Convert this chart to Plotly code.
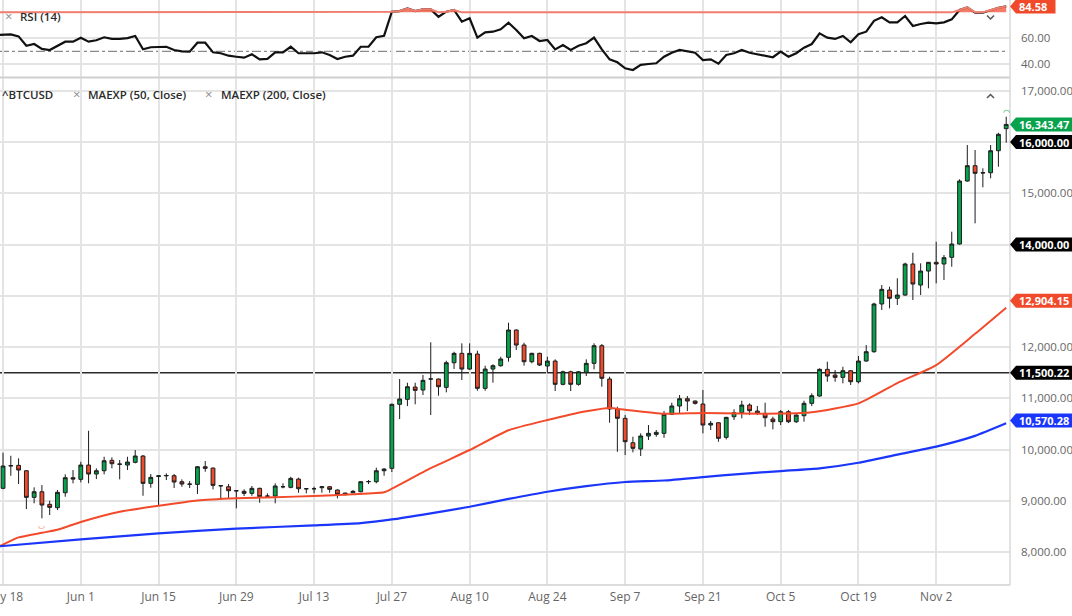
import plotly.graph_objects as go
import pandas as pd

# ---------------- data ----------------
open_ = [9247, 9682, 9695, 9590, 9071, 9180, 8935, 8869, 9161, 9454,
         9422, 9701, 9526, 9590, 9793, 9715, 9701, 9754, 9877, 9344,
         9480, 9490, 9493, 9376, 9331, 9324, 9668, 9642, 9300, 9278,
         9200, 9188, 9149, 9247, 9096, 9096, 9280, 9266, 9428, 9240,
         9240, 9259, 9278, 9214, 9122, 9161, 9180, 9376, 9376, 9590,
         9637, 10885, 10982, 11222, 11164, 11378, 11378, 11216, 11696, 11879,
         11573, 11866, 11197, 11573, 11638, 11801, 12334, 12041, 11716, 11879,
         11632, 11729, 11275, 11520, 11275, 11508, 11684, 12028, 11378, 10793,
         10612, 10136, 10014, 10267, 10299, 10319, 10690, 10852, 10994, 10949,
         10891, 10481, 10526, 10241, 10643, 10721, 10871, 10754, 10709, 10598,
         10546, 10741, 10546, 10663, 10904, 11047, 11567, 11456, 11411, 11540,
         11326, 11729, 11911, 12841, 13114, 12952, 13016, 13621, 13211, 13484,
         13654, 13621, 13751, 14011, 15239, 15538, 15395, 15401, 15830, 16260]
high = [9941, 9882, 9832, 9600, 9266, 9311, 9005, 9214, 9520, 9604,
        9765, 10370, 9637, 9863, 9851, 9799, 9863, 9994, 9896, 9526,
        9506, 9539, 9526, 9422, 9389, 9681, 9779, 9650, 9310, 9331,
        9210, 9227, 9292, 9259, 9149, 9344, 9344, 9473, 9454, 9245,
        9278, 9280, 9292, 9227, 9160, 9214, 9390, 9409, 9649, 9640,
        10900, 11378, 11306, 11306, 11456, 12094, 11390, 11735, 11910, 12074,
        12074, 11930, 11638, 11665, 11813, 12476, 12347, 12086, 11891, 11891,
        11813, 11762, 11540, 11540, 11530, 11762, 12074, 12061, 11423, 10838,
        10676, 10253, 10319, 10481, 10384, 10754, 10916, 11066, 11047, 10960,
        11164, 10560, 10540, 10640, 10787, 10955, 10904, 10852, 10916, 10643,
        10774, 10774, 10690, 10955, 11099, 11587, 11716, 11554, 11618, 11550,
        11827, 12041, 12866, 13211, 13178, 13342, 13646, 13841, 13634, 13660,
        14055, 13796, 14251, 15272, 15941, 15844, 15487, 15941, 16181, 16493]
low = [9230, 9492, 9331, 8843, 8954, 8662, 8726, 8823, 9083, 9344,
       9364, 9344, 9428, 9520, 9637, 9422, 9604, 9734, 9102, 9259,
       8907, 9409, 9253, 9278, 9253, 9136, 9571, 9227, 9019, 9052,
       8857, 9096, 9102, 8966, 9083, 8954, 9247, 9247, 9161, 9149,
       9149, 9161, 9161, 9052, 9116, 9149, 9170, 9330, 9344, 9493,
       9565, 10598, 10851, 10885, 11066, 10676, 11053, 11119, 11573, 11359,
       11554, 11150, 11150, 11306, 11618, 11716, 11944, 11638, 11684, 11632,
       11489, 11144, 11255, 11144, 11250, 11437, 11567, 11228, 10526, 9960,
       9896, 9949, 9877, 10189, 10253, 10233, 10676, 10709, 10754, 10880,
       10319, 10384, 10156, 10200, 10579, 10612, 10676, 10676, 10448, 10397,
       10481, 10520, 10520, 10546, 10851, 11033, 11326, 11326, 11294, 11261,
       11294, 11716, 11891, 12724, 12757, 12822, 13000, 12919, 13016, 13147,
       13244, 13309, 13568, 14000, 15226, 14414, 15116, 15292, 15518, 15986]
close = [9682, 9690, 9604, 9071, 9180, 8921, 8876, 9169, 9454, 9428,
         9701, 9526, 9590, 9785, 9727, 9720, 9760, 9877, 9344, 9461,
         9490, 9497, 9370, 9331, 9327, 9668, 9637, 9305, 9296, 9200,
         9198, 9149, 9247, 9083, 9094, 9292, 9276, 9441, 9239, 9238,
         9238, 9278, 9227, 9130, 9155, 9188, 9376, 9380, 9590, 9623,
         10885, 10988, 11228, 11157, 11353, 11380, 11228, 11696, 11879, 11573,
         11879, 11197, 11573, 11638, 11768, 12334, 12041, 11716, 11879, 11651,
         11729, 11275, 11520, 11275, 11520, 11684, 12028, 11392, 10793, 10612,
         10156, 10027, 10267, 10319, 10339, 10690, 10852, 10994, 10949, 10904,
         10481, 10514, 10222, 10631, 10721, 10871, 10760, 10709, 10624, 10546,
         10741, 10546, 10676, 10904, 11053, 11567, 11437, 11411, 11540, 11326,
         11729, 11911, 12841, 13127, 12952, 13016, 13621, 13231, 13484, 13654,
         13621, 13744, 14011, 15239, 15538, 15389, 15401, 15830, 16150, 16343.47]

# trading days (weekdays) shown on the chart
dates = pd.bdate_range("2020-05-18", periods=len(close)).strftime("%Y-%m-%d").tolist()
pre_date = "2020-05-15"
all_dates = [pre_date] + dates

# RSI(14), one value per trading day starting 2020-05-15
rsi = [62.5, 63, 63, 61.5, 54.3, 55.6, 51.8, 51, 54.3, 57.4,
       57.4, 60.5, 57.4, 58.5, 60.8, 59.5, 59.5, 60.2, 61.8, 51.5,
       53.1, 53.5, 53.5, 51, 50, 49.7, 56.6, 56.6, 49.2, 48.5,
       46.6, 45.8, 45.1, 47.7, 43.8, 44.1, 49.2, 49.2, 53.5, 48.5,
       48.5, 48.5, 49.2, 47.2, 44.1, 45.8, 46.6, 53.5, 53.5, 60.8,
       62, 80.5, 81, 83, 81, 82.3, 82.3, 76.6, 80.5, 81.8,
       72.8, 75.4, 60.5, 64.6, 65.1, 66.9, 72, 66.4, 60, 61.8,
       57.9, 58.7, 51.5, 54.8, 51, 54.3, 56.2, 60.5, 51.5, 43.8,
       41.5, 36.9, 35.6, 39.5, 40.2, 40.8, 45.8, 48.9, 51, 49.7,
       48.9, 43.3, 43.8, 40.5, 47.2, 48.5, 51, 48.9, 47.9, 46.4,
       45.4, 49.7, 45.8, 48.5, 52.8, 55.6, 63.8, 60.5, 59.5, 61.8,
       56.9, 63.1, 65.1, 73.5, 76.2, 72.3, 72.3, 77.2, 69.5, 71,
       72, 71.5, 72.3, 74.6, 81.8, 83.8, 79.7, 79.7, 81.8, 83.5,
       84.58]
rsi_overbought = 80
rsi_mid = 50

# exponential moving averages, read at selected days
ma50_dates = ["2020-05-15", "2020-05-18", "2020-05-20", "2020-05-25", "2020-05-27",
              "2020-06-01", "2020-06-08", "2020-06-15", "2020-06-22", "2020-06-29",
              "2020-07-06", "2020-07-13", "2020-07-20", "2020-07-24", "2020-07-27",
              "2020-08-03", "2020-08-10", "2020-08-17", "2020-08-24", "2020-08-31",
              "2020-09-03", "2020-09-07", "2020-09-14", "2020-09-21", "2020-09-28",
              "2020-10-05", "2020-10-09", "2020-10-19", "2020-10-26", "2020-11-02",
              "2020-11-09", "2020-11-13"]
ma50 = [8090, 8150, 8290, 8380, 8440,
        8590, 8790, 8907, 9010, 9052,
        9075, 9096, 9130, 9170, 9240,
        9640, 9994, 10380, 10579, 10750,
        10815, 10780, 10700, 10715, 10705,
        10705, 10730, 10904, 11300, 11650,
        12260, 12770]
ma200_dates = ["2020-05-15", "2020-06-01", "2020-06-15", "2020-06-29", "2020-07-13",
               "2020-07-21", "2020-07-27", "2020-08-03", "2020-08-10", "2020-08-17",
               "2020-08-24", "2020-08-31", "2020-09-07", "2020-09-14", "2020-09-21",
               "2020-09-28", "2020-10-05", "2020-10-12", "2020-10-19", "2020-10-26",
               "2020-11-02", "2020-11-09", "2020-11-13"]
ma200 = [8110, 8250, 8370, 8460, 8525,
         8570, 8640, 8760, 8888, 9040,
         9180, 9290, 9370, 9400, 9465,
         9530, 9584, 9637, 9746, 9905,
         10060, 10270, 10514]

tick_dates = ["2020-05-18", "2020-06-01", "2020-06-15", "2020-06-29", "2020-07-13",
              "2020-07-27", "2020-08-10", "2020-08-24", "2020-09-07", "2020-09-21",
              "2020-10-05", "2020-10-19", "2020-11-02"]
tick_labels = ["May 18", "Jun 1", "Jun 15", "Jun 29", "Jul 13", "Jul 27", "Aug 10",
               "Aug 24", "Sep 7", "Sep 21", "Oct 5", "Oct 19", "Nov 2"]
price_ticks = [8000, 9000, 10000, 11000, 12000, 13000, 14000, 15000, 16000, 17000]
# labels hidden behind the value tags are left blank
price_tick_text = ["8,000.00", "9,000.00", "10,000.00", "11,000.00", "12,000.00", "",
                   "", "15,000.00", "", "17,000.00"]
rsi_ticks = [40, 60]

levels = [16000, 14000, 11500.22]
last_close_label = "16,343.47"
ma50_label, ma50_last = "12,904.15", 12904.15
ma200_label, ma200_last = "10,570.28", 10570.28
rsi_label, rsi_last = "84.58", 84.58

# ---------------- styling ----------------
W, H = 1072, 616
ML, MR, MT, MB = 0, 62, 0, 31
PW, PH = W - ML - MR, H - MT - MB
GREEN, RED, BLUE = "#07a24c", "#ee4a2b", "#1b36fb"
GRID = "#e4e4e4"
FONT = "Open Sans"


def px(xp):
    return xp / PW


def py(yp):
    return (PH - yp) / PH


fig = go.Figure()

fig.add_trace(go.Candlestick(
    x=dates, open=open_, high=high, low=low, close=close,
    xaxis="x", yaxis="y", whiskerwidth=0, hoverinfo="skip", showlegend=False,
    increasing=dict(line=dict(color="#1c1c1c", width=1), fillcolor=GREEN),
    decreasing=dict(line=dict(color="#1c1c1c", width=1), fillcolor=RED)))

fig.add_trace(go.Scatter(x=ma50_dates, y=ma50, mode="lines", xaxis="x", yaxis="y",
                         line=dict(color="#f24a2a", width=2, shape="spline", smoothing=0.5),
                         hoverinfo="skip"))
fig.add_trace(go.Scatter(x=ma200_dates, y=ma200, mode="lines", xaxis="x", yaxis="y",
                         line=dict(color=BLUE, width=2.2, shape="spline", smoothing=0.5),
                         hoverinfo="skip"))

# RSI panel
fig.add_trace(go.Scatter(x=all_dates, y=rsi, mode="lines", xaxis="x2", yaxis="y2",
                         line=dict(color="#111111", width=2.2), hoverinfo="skip"))
fig.add_trace(go.Scatter(x=all_dates, y=[rsi_overbought] * len(all_dates), mode="lines",
                         xaxis="x2", yaxis="y2", line=dict(width=0), hoverinfo="skip"))
fig.add_trace(go.Scatter(x=all_dates, y=[max(v, rsi_overbought) for v in rsi], mode="lines",
                         xaxis="x2", yaxis="y2", fill="tonexty",
                         fillcolor="rgba(240,80,55,0.75)",
                         line=dict(color="#f07e6e", width=2), hoverinfo="skip"))

shapes = []
# 50 line in RSI
shapes.append(dict(type="line", xref="paper", x0=0, x1=px(1007), yref="y2",
                   y0=rsi_mid, y1=rsi_mid, line=dict(color="#8a8a8a", width=1.3, dash="dashdot"),
                   layer="below"))
# horizontal levels
for lv in levels:
    shapes.append(dict(type="line", xref="paper", x0=0, x1=1, yref="y", y0=lv, y1=lv,
                       line=dict(color="#2a2a2a", width=1.3), layer="below"))
# frame lines
shapes.append(dict(type="line", xref="paper", yref="paper", x0=0, x1=1, y0=0, y1=0,
                   line=dict(color="#d0d0d0", width=1.5)))
shapes.append(dict(type="line", xref="paper", yref="paper", x0=0, x1=1, y0=py(77.5), y1=py(77.5),
                   line=dict(color="#cfcfcf", width=2)))
shapes.append(dict(type="line", xref="paper", yref="paper", x0=1, x1=1, y0=0, y1=1,
                   line=dict(color="#d8d8d8", width=1.5)))
# chevrons
shapes.append(dict(type="path", xref="paper", yref="paper",
                   path=f"M{px(987)},{py(98)} L{px(990.5)},{py(94.5)} L{px(994)},{py(98)}",
                   line=dict(color="#555555", width=1.5)))
shapes.append(dict(type="path", xref="paper", yref="paper",
                   path=f"M{px(987)},{py(15.5)} L{px(990.5)},{py(19)} L{px(994)},{py(15.5)}",
                   line=dict(color="#555555", width=1.5)))

annotations = []
tags = [(last_close_label, close[-1], GREEN, "y"),
        ("16,000.00", levels[0], "#000000", "y"),
        ("14,000.00", levels[1], "#000000", "y"),
        (ma50_label, ma50_last, "#f04a2a", "y"),
        ("11,500.22", levels[2], "#000000", "y"),
        (ma200_label, ma200_last, BLUE, "y"),
        (rsi_label, rsi_last, "#f04a2a", "y2")]
for text, val, col, yr in tags:
    w = 14 + 6.3 * len(text)
    shapes.append(dict(type="path", xref="paper", yref=yr, xsizemode="pixel", ysizemode="pixel",
                       xanchor=1, yanchor=val,
                       path=f"M0,0 L6,7 L{w},7 L{w},-7 L6,-7 Z",
                       fillcolor=col, line=dict(width=0), layer="above"))
    annotations.append(dict(xref="paper", yref=yr, x=1, y=val, xanchor="left", yanchor="middle",
                            xshift=7, text=text, showarrow=False,
                            font=dict(family=FONT, size=11, color="white", weight="bold")))

# legends
LEG = dict(family=FONT, size=11.5, color="#2b2b2b", weight=600)
XC = dict(family=FONT, size=13, color="#8c8c8c")
for txt, x0, y0, f in [("\u00d7", 2.5, 16, XC), ("RSI (14)", 17.5, 16, LEG),
                       ("^BTCUSD", 0, 94.5, LEG),
                       ("\u00d7", 70.5, 94.5, XC), ("MAEXP (50, Close)", 85.5, 94.5, LEG),
                       ("\u00d7", 203, 94.5, XC), ("MAEXP (200, Close)", 218.5, 94.5, LEG)]:
    annotations.append(dict(xref="paper", yref="paper", x=px(x0), y=py(y0), xanchor="left",
                            yanchor="middle", text=txt, showarrow=False, font=f))

# small markers: lowest low / highest high
annotations.append(dict(x=dates[5], y=low[5], xref="x", yref="y", text="\u25e1", showarrow=False,
                        yshift=-6, font=dict(size=8, color="#f05a40")))
annotations.append(dict(x=dates[-1], y=high[-1], xref="x", yref="y", text="\u25e0", showarrow=False,
                        yshift=5, font=dict(size=8, color="#22b060")))

common_x = dict(type="category", categoryorder="array", categoryarray=all_dates,
                range=[0.61, 130.49], tickvals=tick_dates, ticktext=tick_labels,
                showgrid=True, gridcolor=GRID, gridwidth=1.5, zeroline=False, showline=False,
                ticks="", fixedrange=True, automargin=False)

fig.update_layout(
    width=W, height=H, margin=dict(l=ML, r=MR, t=MT, b=MB, autoexpand=False),
    paper_bgcolor="white", plot_bgcolor="white", showlegend=False,
    xaxis=dict(**common_x, anchor="y", domain=[0, 1], rangeslider=dict(visible=False),
               tickfont=dict(family=FONT, size=12, color="#666666"), ticklabelstandoff=3,
               ticklabeloverflow="allow"),
    xaxis2=dict(**common_x, anchor="y2", domain=[0, 1], showticklabels=False),
    yaxis=dict(domain=[0, py(78)], side="right", range=[7362, 17248], tickvals=price_ticks,
               ticktext=price_tick_text, showgrid=True, gridcolor=GRID, gridwidth=1.5,
               zeroline=False, automargin=False,
               tickfont=dict(family=FONT, size=11.5, color="#666666"), ticklabelstandoff=10,
               anchor="x"),
    yaxis2=dict(domain=[py(77), 1], side="right", range=[30.2, 89.5], tickvals=rsi_ticks,
                tickformat=".2f", showgrid=True, gridcolor=GRID, gridwidth=1.5, zeroline=False,
                automargin=False,
                tickfont=dict(family=FONT, size=11.5, color="#666666"), ticklabelstandoff=10,
                anchor="x2"),
    shapes=shapes, annotations=annotations,
)

fig.write_html("out.html")
